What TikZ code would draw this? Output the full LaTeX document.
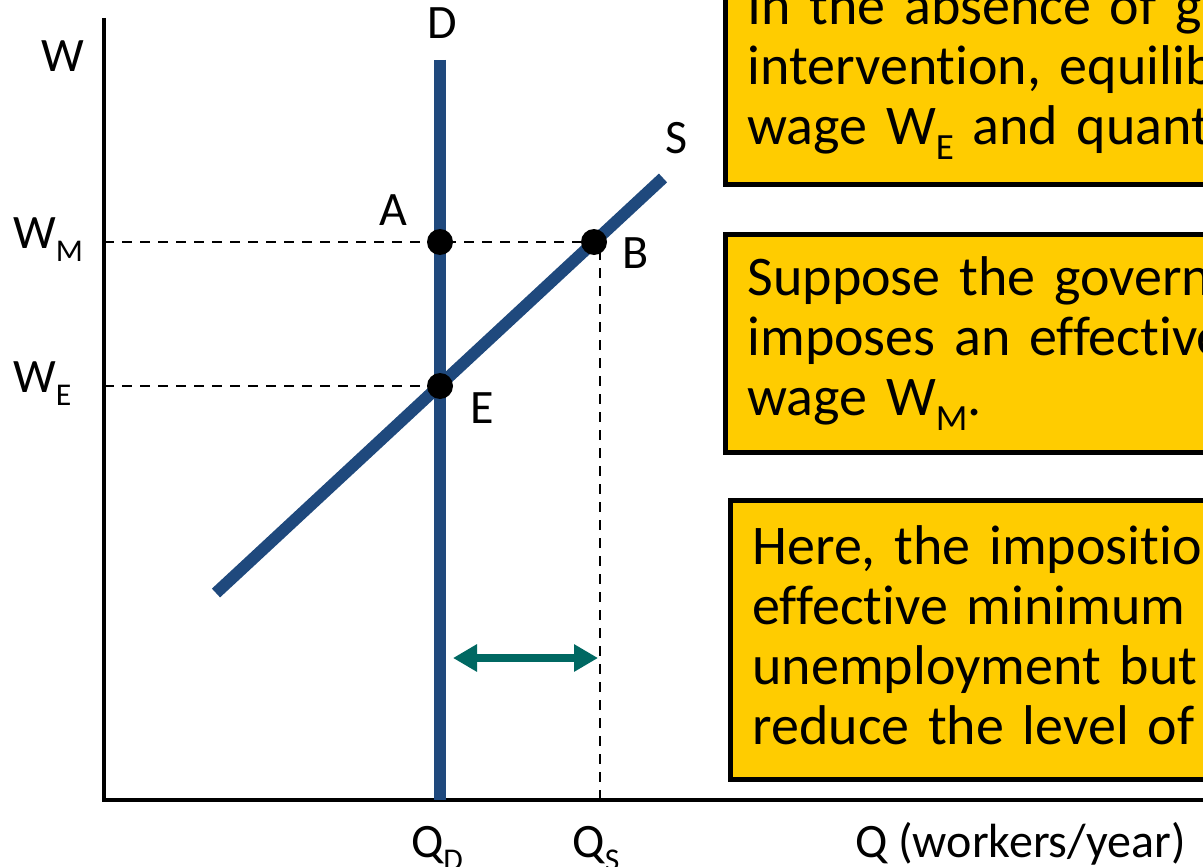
\documentclass[tikz,border=0pt]{standalone}
\usepackage{fontspec}
\setmainfont{Carlito}[Ligatures=NoCommon]
\usepackage{graphicx}
\usepackage{tikz}
\usetikzlibrary{
  arrows.meta,
  positioning
}
\definecolor{curveBlue}{RGB}{31,73,125}
\definecolor{gapTeal}{RGB}{0,104,98}
\definecolor{noteFill}{RGB}{255,204,0}
\newcommand{\lowidx}[1]{\raisebox{-0.28em}{\scalebox{0.66}{#1}}}
\tikzset{
  axisline/.style={draw=black, line width=4pt},
  curve/.style={draw=curveBlue, line width=12pt},
  guide/.style={draw=black, line width=2.4pt, dash pattern=on 10pt off 8pt},
  dot/.style={circle, fill=black, minimum size=26pt, inner sep=0pt},
  gaparrow/.style={{Triangle[length=24pt,width=26pt]}-{Triangle[length=24pt,width=26pt]}, draw=gapTeal, line width=8pt},
  lbl/.style={font=\fontsize{48}{54}\selectfont, inner sep=0pt},
  notebox/.style={
    draw=black,
    fill=noteFill,
    line width=5pt,
    anchor=north west,
    text width=1100pt,
    align=left,
    inner xsep=22pt,
    font=\fontsize{56}{60}\selectfont
  }
}

\begin{document}
\begin{tikzpicture}[x=1pt,y=-1pt]
  \useasboundingbox (0,0) rectangle (1203,867);
  \begin{scope}
  \clip (0,0) rectangle (1203,867);

  % notes on the right
  \node[notebox, minimum height=224pt] (noteEq) at (723,-42) {In the absence of government\\intervention, equilibrium occurs at\\wage W\lowidx{E} and quantity Q\lowidx{E}.};
  \node[notebox, minimum height=218pt] (noteMin) at (723,232) {Suppose the government\\imposes an effective minimum\\wage W\lowidx{M}.};
  \node[notebox, minimum height=279pt] (noteGap) at (728,498) {Here, the imposition of an\\effective minimum wage creates\\unemployment but does not\\reduce the level of employment.};

  % axes
  \coordinate (origin) at (104,800);
  \coordinate (wTop) at (104,18);
  \coordinate (qEnd) at (1210,800);
  \draw[axisline] (wTop) -- (origin) -- (qEnd);

  % curves and guides
  \coordinate (dTop) at (440,60);
  \coordinate (dBot) at (440,800);
  \coordinate (sLow) at (216,593);
  \coordinate (sHigh) at (663,178);
  \coordinate (wmTick) at (104,242);
  \coordinate (weTick) at (104,386);
  \coordinate (qsTop) at (600,250);
  \coordinate (qsBot) at (600,800);
  \draw[guide] (wmTick) -- (594,242);
  \draw[guide] (weTick) -- (440,386);
  \draw[guide] (qsTop) -- (qsBot);
  \draw[curve] (dTop) -- (dBot);
  \draw[curve] (sLow) -- (sHigh);

  \node[dot] (ptA) at (440,242) {};
  \node[dot] (ptB) at (594,242) {};
  \node[dot] (ptE) at (440,386) {};

  % unemployment gap
  \coordinate (gapL) at (453,658);
  \coordinate (gapR) at (598,658);
  \draw[gaparrow] (gapL) -- (gapR);

  % labels
  \node[lbl, anchor=base] (lblD) at (442,39) {D};
  \node[lbl, anchor=base] (lblS) at (677,153) {S};
  \node[lbl, anchor=base] (lblA) at (393,225) {A};
  \node[lbl, anchor=base] (lblB) at (636,268) {B};
  \node[lbl, anchor=base] (lblE) at (482,423) {E};
  \node[lbl, anchor=base] (lblW) at (63,72) {W};
  \node[lbl, anchor=base west] (lblWM) at (13,248) {W\lowidx{M}};
  \node[lbl, anchor=base west] (lblWE) at (13,392) {W\lowidx{E}};
  \node[lbl, anchor=base] (lblQD) at (437,857) {Q\lowidx{D}};
  \node[lbl, anchor=base] (lblQS) at (596,857) {Q\lowidx{S}};
  \node[lbl, anchor=base west] (lblQ) at (855,857) {Q (workers/year)};
  \end{scope}
\end{tikzpicture}
\end{document}
